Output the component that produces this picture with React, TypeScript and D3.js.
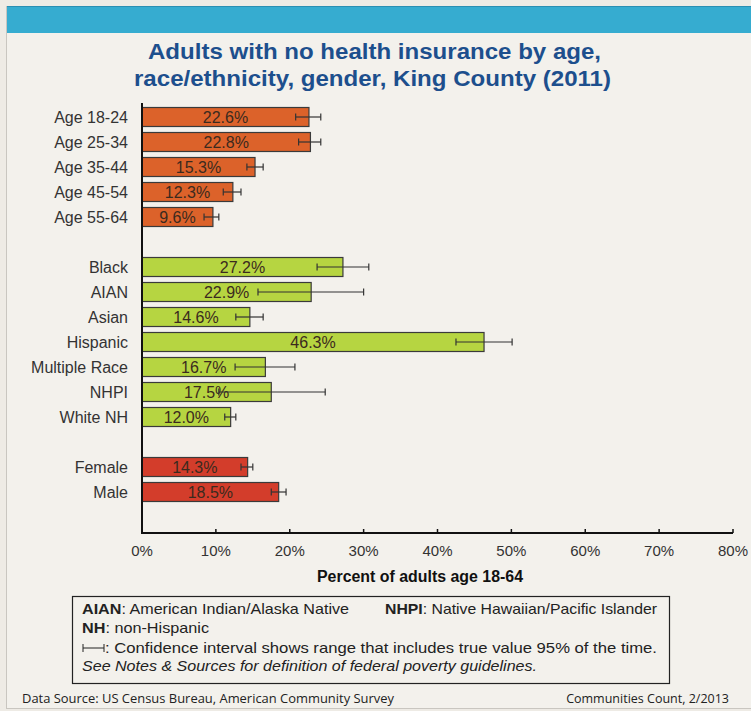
import React from "react";
import * as d3 from "d3";

// ---- Data ----
const ageLabels = ["Age 18-24", "Age 25-34", "Age 35-44", "Age 45-54", "Age 55-64"];
const ageValues = [22.6, 22.8, 15.3, 12.3, 9.6];
const ageLow = [20.8, 21.2, 14.2, 11.0, 8.4];
const ageHigh = [24.2, 24.2, 16.4, 13.4, 10.4];

const raceLabels = ["Black", "AIAN", "Asian", "Hispanic", "Multiple Race", "NHPI", "White NH"];
const raceValues = [27.2, 22.9, 14.6, 46.3, 16.7, 17.5, 12.0];
const raceLow = [23.7, 15.7, 12.7, 42.5, 12.6, 10.4, 11.2];
const raceHigh = [30.7, 30.0, 16.4, 50.1, 20.7, 24.8, 12.7];

const genderLabels = ["Female", "Male"];
const genderValues = [14.3, 18.5];
const genderLow = [13.4, 17.5];
const genderHigh = [15.0, 19.5];

const xTicks = [0, 10, 20, 30, 40, 50, 60, 70, 80];

const COLORS = { age: "#dc622a", race: "#b6d541", gender: "#d33d2b" };

type Row =
  | { key: string; label: string; value: number; lo: number; hi: number; group: "age" | "race" | "gender" }
  | { key: string; blank: true };

const rows: Row[] = [];
ageLabels.forEach((l, i) => rows.push({ key: l, label: l, value: ageValues[i], lo: ageLow[i], hi: ageHigh[i], group: "age" }));
rows.push({ key: "_gap1", blank: true });
raceLabels.forEach((l, i) => rows.push({ key: l, label: l, value: raceValues[i], lo: raceLow[i], hi: raceHigh[i], group: "race" }));
rows.push({ key: "_gap2", blank: true });
genderLabels.forEach((l, i) => rows.push({ key: l, label: l, value: genderValues[i], lo: genderLow[i], hi: genderHigh[i], group: "gender" }));
rows.push({ key: "_gap3", blank: true });

const W = 751;
const H = 711;
const FONT = "'Liberation Sans', Arial, sans-serif";

export default function App() {
  const x = d3.scaleLinear().domain([0, 80]).range([142, 733]);
  const y = d3
    .scaleBand<string>()
    .domain(rows.map((r) => r.key))
    .range([104.5, 529.5])
    .paddingInner(0.24)
    .paddingOuter(0.12);
  const axisY = 533;
  const bw = y.bandwidth();
  const adj = "spacingAndGlyphs";

  return (
    <div style={{ position: "fixed", left: 0, top: 0, width: W, height: H }}>
      <svg width={W} height={H} style={{ display: "block" }} fontFamily={FONT}>
        <rect x={0} y={0} width={W} height={H} fill="#eeebe5" />
        <rect x={6.5} y={6.5} width={W} height={702} fill="#f3f1ec" stroke="#c9c6c0" strokeWidth={1} />
        <rect x={7} y={6} width={W} height={27} fill="#36acd0" />
        <line x1={7} x2={W} y1={6.5} y2={6.5} stroke="#2a8fb3" strokeWidth={1} />

        {/* Title */}
        <text x={148} y={59} fontSize={22} fontWeight="bold" fill="#1d4f8d" textLength={453} lengthAdjust={adj}>
          Adults with no health insurance by age,
        </text>
        <text x={134} y={86} fontSize={22} fontWeight="bold" fill="#1d4f8d" textLength={477} lengthAdjust={adj}>
          race/ethnicity, gender, King County (2011)
        </text>

        {/* Bars */}
        {rows.map((r) => {
          if ("blank" in r) return null;
          const yy = y(r.key)!;
          const cy = yy + bw / 2;
          return (
            <g key={r.key}>
              <text x={128} y={cy} dy="0.35em" textAnchor="end" fontSize={16} fill="#333">
                {r.label}
              </text>
              <rect
                x={x(0)}
                y={yy}
                width={x(r.value) - x(0)}
                height={bw}
                fill={COLORS[r.group]}
                stroke="#3a3a3a"
                strokeWidth={1.2}
              />
              <text
                x={(x(0) + x(r.value)) / 2}
                y={cy}
                dy="0.36em"
                textAnchor="middle"
                fontSize={16}
                fill="#3b2a1e"
              >
                {r.value.toFixed(1)}%
              </text>
              <g stroke="#333" strokeWidth={1.2}>
                <line x1={x(r.lo)} x2={x(r.hi)} y1={cy} y2={cy} />
                <line x1={x(r.lo)} x2={x(r.lo)} y1={cy - 3.5} y2={cy + 3.5} />
                <line x1={x(r.hi)} x2={x(r.hi)} y1={cy - 3.5} y2={cy + 3.5} />
              </g>
            </g>
          );
        })}

        {/* Axes */}
        <line x1={x(0)} x2={x(0)} y1={103} y2={axisY} stroke="#111" strokeWidth={2} />
        <line x1={x(0) - 1} x2={x(80)} y1={axisY} y2={axisY} stroke="#111" strokeWidth={2} />
        {xTicks.map((t) => (
          <g key={t}>
            <line x1={x(t)} x2={x(t)} y1={axisY - 4} y2={axisY} stroke="#111" strokeWidth={1.5} />
            <text x={x(t)} y={556} textAnchor="middle" fontSize={15} fill="#333">
              {t}%
            </text>
          </g>
        ))}
        <text x={317} y={582} fontSize={16} fontWeight="bold" fill="#111" textLength={206} lengthAdjust={adj}>
          Percent of adults age 18-64
        </text>

        {/* Notes box */}
        <rect x={72.5} y={596.5} width={597} height={87} fill="none" stroke="#222" strokeWidth={1.2} />
        <g fontSize={15} fill="#222">
          <text x={82} y={614} textLength={267} lengthAdjust={adj}>
            <tspan fontWeight="bold">AIAN</tspan>: American Indian/Alaska  Native
          </text>
          <text x={385} y={614} textLength={272} lengthAdjust={adj}>
            <tspan fontWeight="bold">NHPI</tspan>: Native Hawaiian/Pacific Islander
          </text>
          <text x={82} y={633} textLength={127} lengthAdjust={adj}>
            <tspan fontWeight="bold">NH</tspan>: non-Hispanic
          </text>
          <g stroke="#222" strokeWidth={1}>
            <line x1={83} x2={104} y1={648} y2={648} />
            <line x1={83} x2={83} y1={644} y2={652} />
            <line x1={104} x2={104} y1={644} y2={652} />
          </g>
          <text x={105} y={653} textLength={552} lengthAdjust={adj}>
            : Confidence interval shows range that includes true value 95% of the time.
          </text>
          <text x={82} y={671} fontStyle="italic" textLength={455} lengthAdjust={adj}>
            See Notes &amp; Sources for definition of federal poverty guidelines.
          </text>
        </g>

        {/* Footer */}
        <text x={22} y={703} fontSize={12.5} fill="#222" fontFamily="'Open Sans', sans-serif" textLength={372} lengthAdjust={adj}>
          Data Source: US Census Bureau, American Community Survey
        </text>
        <text x={729} y={703} textAnchor="end" fontSize={12.5} fill="#222" fontFamily="'Open Sans', sans-serif">
          Communities Count, 2/2013
        </text>
      </svg>
    </div>
  );
}
